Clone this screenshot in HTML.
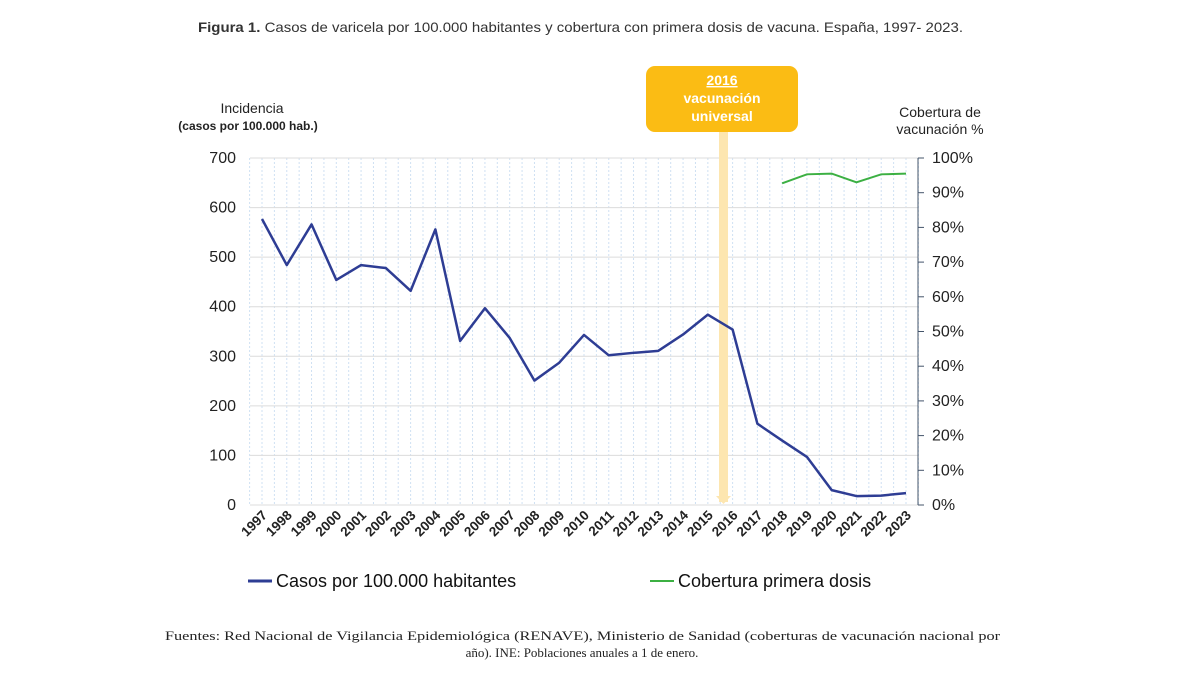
<!DOCTYPE html>
<html><head><meta charset="utf-8"><style>
body{margin:0;background:#fff;width:1200px;height:675px;overflow:hidden;font-family:"Liberation Sans",sans-serif}
svg{position:absolute;left:0;top:0}
</style></head><body>
<svg width="1200" height="675">
<text x="198" y="32" font-size="14" fill="#333" textLength="765" lengthAdjust="spacingAndGlyphs"><tspan font-weight="bold">Figura 1.</tspan> Casos de varicela por 100.000 habitantes y cobertura con primera dosis de vacuna. España, 1997- 2023.</text>
<g id="grid"></g>
<rect x="719" y="132" width="9" height="370" fill="#fde6b0"/>
<polygon points="716,496 731,496 723.5,504" fill="#fde6b0"/>
<rect x="646" y="66" width="152" height="66" rx="9" fill="#fbbc14"/>
<text x="722" y="85" text-anchor="middle" font-size="14" font-weight="bold" fill="#fff" text-decoration="underline">2016</text>
<text x="722" y="103" text-anchor="middle" font-size="14" font-weight="bold" fill="#fff">vacunación</text>
<text x="722" y="121" text-anchor="middle" font-size="14" font-weight="bold" fill="#fff">universal</text>
<text x="252" y="113" text-anchor="middle" font-size="14" fill="#222">Incidencia</text>
<text x="248" y="130" text-anchor="middle" font-size="12" font-weight="bold" fill="#222">(casos por 100.000 hab.)</text>
<text x="940" y="117" text-anchor="middle" font-size="14" fill="#222">Cobertura de</text>
<text x="940" y="134" text-anchor="middle" font-size="14" fill="#222">vacunación %</text>
<line x1="918" y1="158" x2="918" y2="505" stroke="#44546a" stroke-width="1"/>
<g id="axes"></g>
<g id="series"></g>
<line x1="248" y1="581" x2="272" y2="581" stroke="#2e3d94" stroke-width="3"/>
<text x="276" y="587" font-size="18" fill="#111">Casos por 100.000 habitantes</text>
<line x1="650" y1="581" x2="674" y2="581" stroke="#3cb043" stroke-width="2"/>
<text x="678" y="587" font-size="18" fill="#111">Cobertura primera dosis</text>
<text x="165" y="640" font-family="Liberation Serif,serif" font-size="13" fill="#222" textLength="835" lengthAdjust="spacingAndGlyphs">Fuentes: Red Nacional de Vigilancia Epidemiológica (RENAVE), Ministerio de Sanidad (coberturas de vacunación nacional por</text>
<text x="582" y="657" text-anchor="middle" font-family="Liberation Serif,serif" font-size="13" fill="#222">año). INE: Poblaciones anuales a 1 de enero.</text>
</svg>
<script>
const years=[1997,1998,1999,2000,2001,2002,2003,2004,2005,2006,2007,2008,2009,2010,2011,2012,2013,2014,2015,2016,2017,2018,2019,2020,2021,2022,2023];
const cases=[577,484,566,454,484,478,432,556,331,397,337,251,287,343,302,307,311,344,384,354,164,130,97,30,18,19,24];
const covYears=[2018,2019,2020,2021,2022,2023];
const coverage=[92.7,95.3,95.5,93,95.3,95.5];
const leftTicks=[0,100,200,300,400,500,600,700];
const rightTicks=[0,10,20,30,40,50,60,70,80,90,100];
const NS="http://www.w3.org/2000/svg";
const x=i=>262+i*(906-262)/26;
const xy=yr=>x(yr-1997);
const yL=v=>505-v*347/700;
const yR=v=>505-v*347/100;
function mk(t,a,p){const e=document.createElementNS(NS,t);for(const k in a)e.setAttribute(k,a[k]);p.appendChild(e);return e;}
const grid=document.getElementById('grid'),axes=document.getElementById('axes'),ser=document.getElementById('series');
for(let i=-0.5;i<=26.5;i+=0.5){const l=mk('line',{x1:x(i),x2:x(i),y1:158,y2:505,stroke:'#cfe0f3','stroke-width':1,'stroke-dasharray':'2,2'},grid);

}
leftTicks.forEach(v=>{const l=mk('line',{x1:250,x2:918,y1:yL(v),y2:yL(v),stroke:'#dcdcdc','stroke-width':1},grid);


const t=mk('text',{x:236,y:yL(v)+5,'text-anchor':'end','font-size':16,fill:'#222'},axes);t.textContent=v;

});
rightTicks.forEach(v=>{const l=mk('line',{x1:918,x2:924,y1:yR(v),y2:yR(v),stroke:'#44546a'},axes);


const t=mk('text',{x:932,y:yR(v)+5,'font-size':16,fill:'#222'},axes);t.textContent=v+'%';

});
years.forEach((yr,i)=>{const t=mk('text',{x:x(i)+6,y:516,'text-anchor':'end','font-size':13.5,'font-weight':'bold',fill:'#222',transform:`rotate(-45 ${x(i)+6} 516)`},axes);t.textContent=yr;

});
const p1=mk('polyline',{points:cases.map((v,i)=>x(i)+','+yL(v)).join(' '),fill:'none',stroke:'#2e3d94','stroke-width':2.5,'stroke-linejoin':'round'},ser);


const p2=mk('polyline',{points:coverage.map((v,i)=>xy(covYears[i])+','+yR(v)).join(' '),fill:'none',stroke:'#3cb043','stroke-width':2},ser);


</script>
</body></html>
